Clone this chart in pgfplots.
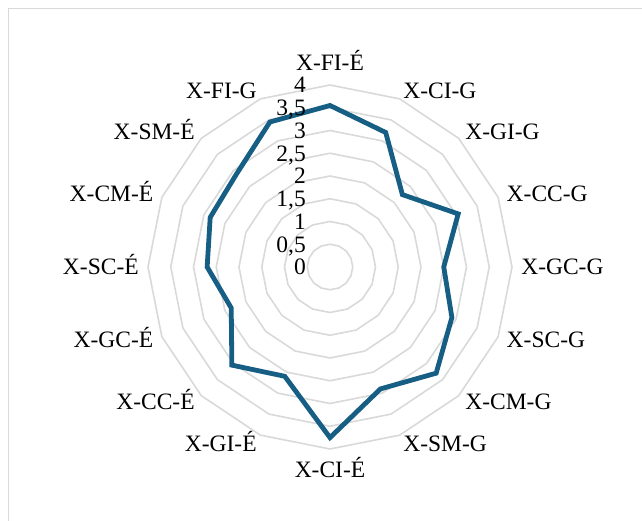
\documentclass[border=0pt]{standalone}
\usepackage{fontspec}
\setmainfont{Liberation Serif}
\usepackage{pgfplots}
\pgfplotsset{compat=1.18}
\usepgfplotslibrary{polar}

\definecolor{radarline}{RGB}{22,94,131}
\definecolor{gridgray}{RGB}{217,217,217}

% one 16-sided grid ring at radius #1
\newcommand\ring[1]{%
  \draw[gridgray, line width=1.6pt]
    (axis cs:0,#1) -- (axis cs:22.5,#1) -- (axis cs:45,#1) -- (axis cs:67.5,#1) --
    (axis cs:90,#1) -- (axis cs:112.5,#1) -- (axis cs:135,#1) -- (axis cs:157.5,#1) --
    (axis cs:180,#1) -- (axis cs:202.5,#1) -- (axis cs:225,#1) -- (axis cs:247.5,#1) --
    (axis cs:270,#1) -- (axis cs:292.5,#1) -- (axis cs:315,#1) -- (axis cs:337.5,#1) -- cycle;}

\tikzset{
  lbl/.style={font=\fontsize{23.5}{28}\selectfont, inner sep=0pt,
    text height=15.6pt, text depth=0pt},
}

\begin{document}
\begin{tikzpicture}
\useasboundingbox (0pt,0pt) rectangle (642pt,520pt);
\draw[gridgray, line width=1.2pt] (8.5pt,-20pt) -- (8.5pt,511.5pt) -- (680pt,511.5pt);

\begin{polaraxis}[
  at={(330pt,253pt)}, anchor=center,
  width=364pt, height=364pt, scale only axis,
  ymin=0, ymax=4,
  hide axis, clip=false,
]
\ring{0.5}\ring{1}\ring{1.5}\ring{2}\ring{2.5}\ring{3}\ring{3.5}\ring{4}

\addplot[radarline, line width=4.8pt, no marks] coordinates {
  (90,3.55) (67.5,3.2) (45,2.25) (22.5,3.05)
  (0,2.5) (337.5,2.9) (315,3.3) (292.5,2.9)
  (270,3.75) (247.5,2.6) (225,3.05) (202.5,2.35)
  (180,2.7) (157.5,2.85) (135,2.9) (112.5,3.45)
} -- cycle;

% category labels
\node[lbl, anchor=south] at (axis cs:90,4.32) {X-FI-É};
\node[lbl, anchor=west] at (axis cs:67.5,4.2) {X-CI-G};
\node[lbl, anchor=west] at (axis cs:45,4.2) {X-GI-G};
\node[lbl, anchor=west] at (axis cs:22.5,4.2) {X-CC-G};
\node[lbl, anchor=west] at (axis cs:0,4.2) {X-GC-G};
\node[lbl, anchor=west] at (axis cs:337.5,4.2) {X-SC-G};
\node[lbl, anchor=west] at (axis cs:315,4.2) {X-CM-G};
\node[lbl, anchor=west] at (axis cs:292.5,4.2) {X-SM-G};
\node[lbl, anchor=north] at (axis cs:270,4.28) {X-CI-É};
\node[lbl, anchor=east] at (axis cs:247.5,4.2) {X-GI-É};
\node[lbl, anchor=east] at (axis cs:225,4.2) {X-CC-É};
\node[lbl, anchor=east] at (axis cs:202.5,4.2) {X-GC-É};
\node[lbl, anchor=east] at (axis cs:180,4.2) {X-SC-É};
\node[lbl, anchor=east] at (axis cs:157.5,4.2) {X-CM-É};
\node[lbl, anchor=east] at (axis cs:135,4.2) {X-SM-É};
\node[lbl, anchor=east] at (axis cs:112.5,4.2) {X-FI-G};

% radial tick labels
\node[lbl, anchor=east, xshift=-24pt] at (axis cs:90,0) {0};
\node[lbl, anchor=east, xshift=-24pt] at (axis cs:90,0.5) {0,5};
\node[lbl, anchor=east, xshift=-24pt] at (axis cs:90,1) {1};
\node[lbl, anchor=east, xshift=-24pt] at (axis cs:90,1.5) {1,5};
\node[lbl, anchor=east, xshift=-24pt] at (axis cs:90,2) {2};
\node[lbl, anchor=east, xshift=-24pt] at (axis cs:90,2.5) {2,5};
\node[lbl, anchor=east, xshift=-24pt] at (axis cs:90,3) {3};
\node[lbl, anchor=east, xshift=-24pt] at (axis cs:90,3.5) {3,5};
\node[lbl, anchor=east, xshift=-24pt] at (axis cs:90,4) {4};
\end{polaraxis}
\end{tikzpicture}
\end{document}
